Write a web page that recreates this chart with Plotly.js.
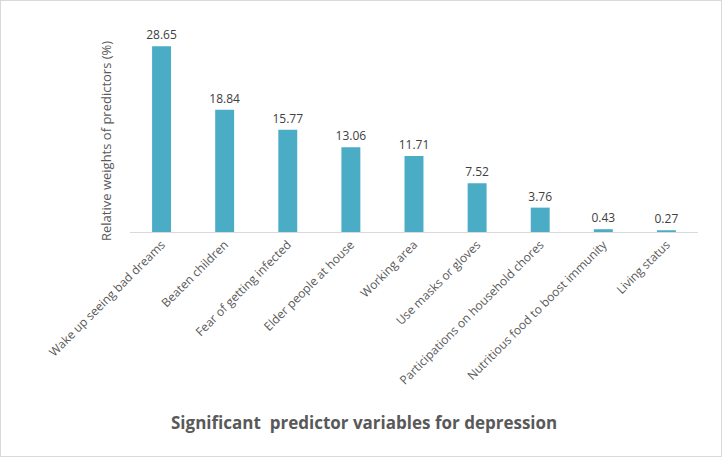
<!DOCTYPE html>
<html><head><meta charset="utf-8">
<script src="https://cdn.plot.ly/plotly-3.0.1.min.js"></script>
<style>html,body{margin:0;padding:0;background:#fff}#c{width:720px;height:455px;border:1px solid #d9d9d9}</style>
</head><body><div id="c"></div>
<script>
const categories = ["Wake up seeing bad dreams","Beaten children","Fear of getting infected","Elder people at house","Working area","Use masks or gloves","Participations on household chores","Nutritious food to boost immunity","Living status"];
const weights = [28.65, 18.84, 15.77, 13.06, 11.71, 7.52, 3.76, 0.43, 0.27];
const labels = ["28.65","18.84","15.77","13.06","11.71","7.52","3.76","0.43","0.27"];
const yTitle = "Relative weights of predictors (%)";
const xTitle = "Significant  predictor variables for depression";

Plotly.newPlot('c', [{
  type: 'bar', x: categories, y: weights, text: labels, textposition: 'outside',
  texttemplate: '%{text}', cliponaxis: false, constraintext: 'none',
  marker: {color: '#4BACC6'},
  textfont: {family: 'Open Sans', size: 12, color: '#404040'},
  hoverinfo: 'none'
}], {
  width: 720, height: 455,
  margin: {l: 129, r: 23, t: 19, b: 224},
  bargap: 0.7,
  showlegend: false,
  paper_bgcolor: '#fff', plot_bgcolor: '#fff',
  font: {family: 'Open Sans', color: '#595959'},
  xaxis: {tickangle: -45, showline: true, linecolor: '#d9d9d9', linewidth: 1, ticks: '',
          tickfont: {family: 'Open Sans', size: 12, color: '#595959'}, fixedrange: true},
  yaxis: {range: [0, 32.7], showticklabels: false, showgrid: false, zeroline: false, showline: false, fixedrange: true},
  annotations: [
    {text: yTitle, xref: 'paper', yref: 'paper', x: (106-130)/568, y: (231-140)/212, textangle: -90,
     showarrow: false, font: {family: 'Open Sans', size: 13, color: '#595959'}, xanchor: 'center', yanchor: 'middle'},
    {text: '<b>' + xTitle + '</b>', xref: 'paper', yref: 'paper', x: (364-130)/568, y: (231-421)/212,
     showarrow: false, font: {family: 'Open Sans', size: 17, color: '#595959'}, xanchor: 'center', yanchor: 'middle'}
  ]
}, {staticPlot: true});
</script></body></html>
